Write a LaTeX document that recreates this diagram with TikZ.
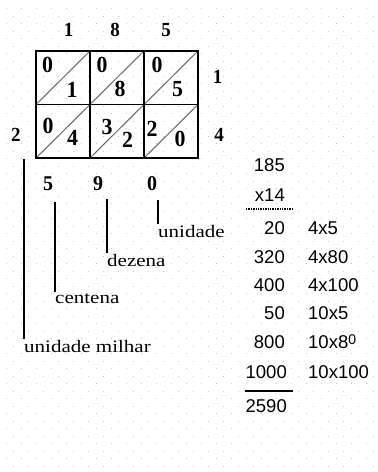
\documentclass[tikz,border=0pt]{standalone}
\usepackage{fontspec}
\setmainfont{Liberation Serif}
\newfontfamily\labelfont[FakeStretch=1.2]{Liberation Serif}
\newfontfamily\digitfont[FakeStretch=0.95]{Liberation Serif}
\newfontfamily\calcfont{Liberation Sans}
\definecolor{dotgray}{RGB}{196,196,196}
\definecolor{diaggray}{RGB}{105,105,105}
\usetikzlibrary{positioning,calc}

\tikzset{
  digit/.style={inner sep=0pt, font=\digitfont\fontsize{23}{26}\selectfont\bfseries},
  outer/.style={inner sep=0pt, font=\digitfont\fontsize{20}{23}\selectfont\bfseries},
  result/.style={inner sep=0pt, font=\digitfont\fontsize{21}{24}\selectfont\bfseries},
  place/.style={inner sep=1.5pt, anchor=north west, font=\labelfont\fontsize{17.5}{20}\selectfont},
  partial/.style={inner sep=0pt, anchor=east, font=\calcfont\fontsize{18.5}{22}\selectfont},
  product/.style={inner sep=0pt, anchor=west, font=\calcfont\fontsize{18.5}{22}\selectfont},
  leader/.style={line width=1.3pt},
  gridline/.style={line width=1.4pt},
  diagline/.style={diaggray, line width=1pt},
  sumline/.style={line width=1.4pt},
}

\begin{document}
\begin{tikzpicture}[x=1pt, y=-1pt]
  \useasboundingbox (0,0) rectangle (378,472);
  \fill[white] (0,0) rectangle (378,472);
  % dotted paper
  \foreach \k in {0,...,62} {
    \pgfmathsetmacro{\off}{5.7+7.5*mod(\k,2)}
    \foreach \j in {0,...,25}
      \fill[dotgray] ({\off+15*\j},{8+7.5*\k}) rectangle +(1.2,1.2);
  }

  % lattice
  \foreach \x in {36,90,144}
    \foreach \y in {51,104.5}
      \draw[diagline] (\x,\y+53.5) -- (\x+54,\y);
  \draw[gridline] (36,51) rectangle (198,158);
  \draw[gridline] (90,51) -- (90,158) (144,51) -- (144,158) (36,104.5) -- (198,104.5);

  \foreach \n/\p/\q/\r/\s/\a/\b in {
      a/47.5/65/72/89.5/0/1, b/102/65/120/89/0/8, c/157/65/177.5/89/0/5,
      d/48/126/72.5/137.5/0/4, e/107/127/127.5/139.5/3/2, f/152/129/180/139/2/0} {
    \node[digit] (t\n) at (\p,\q) {\a};
    \node[digit] (u\n) at (\r,\s) {\b};
  }

  \node[outer] (f1) at (68.5,30) {1};
  \node[outer] (f8) at (115,30) {8};
  \node[outer] (f5) at (166,30) {5};
  \node[outer] (g1) at (217.5,77) {1};
  \node[outer] (g4) at (219,135) {4};
  \node[outer] (carry) at (16,134.5) {2};

  \node[result] (r5) at (48,184) {5};
  \node[result] (r9) at (98,184) {9};
  \node[result] (r0) at (152,184) {0};

  % place values
  \coordinate (mtop) at (24,159);
  \coordinate (ctop) at (55,202);
  \coordinate (dtop) at (107,199);
  \coordinate (utop) at (158,200);
  \node[place] (milhar) at (22.5,339) {unidade milhar};
  \node[place] (centena) at (53.5,292) {centena};
  \node[place] (dezena) at (105.5,253) {dezena};
  \node[place] (unidade) at (156.5,224) {unidade};
  \draw[leader] (mtop) -- (mtop |- milhar.north);
  \draw[leader] (ctop) -- (ctop |- centena.north);
  \draw[leader] (dtop) -- (dtop |- dezena.north);
  \draw[leader] (utop) -- (utop |- unidade.north);

  % usual algorithm
  \node[partial] (n185) at (285,165) {185};
  \node[partial] (x14) at (285,195) {x14};
  \draw[sumline, densely dotted] (246,209) -- (292,209);
  \node[partial] (p1) at (285,228) {20};
  \node[partial] (p2) at (285,257) {320};
  \node[partial] (p3) at (285,285) {400};
  \node[partial] (p4) at (285,313) {50};
  \node[partial] (p5) at (285,342) {800};
  \node[partial] (p6) at (287,372) {1000};
  \draw[sumline] (245,391) -- (293,391);
  \node[partial] (total) at (287,406) {2590};
  \node[product] (q1) at (308,228) {4x5};
  \node[product] (q2) at (308,257) {4x80};
  \node[product] (q3) at (308,285) {4x100};
  \node[product] (q4) at (308,313) {10x5};
  \node[product] (q5) at (308,342) {10x8\raisebox{4pt}{\fontsize{14}{16}\selectfont 0}};
  \node[product] (q6) at (308,372) {10x100};
\end{tikzpicture}
\end{document}
